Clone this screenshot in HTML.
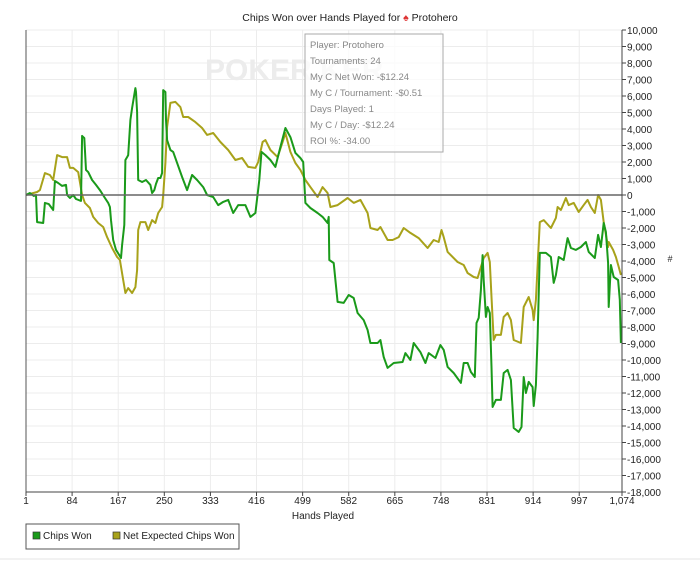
<!DOCTYPE html>
<html><head><meta charset="utf-8"><style>
body{margin:0;background:#fff;font-family:"Liberation Sans",sans-serif;}
svg text{font-family:"Liberation Sans",sans-serif;}
</style></head><body>
<svg id="chart" width="700" height="565" viewBox="0 0 700 565" xmlns="http://www.w3.org/2000/svg">
<rect width="700" height="565" fill="#fff"/>
<text x="350" y="21" font-size="10.5" text-anchor="middle" fill="#222">Chips Won over Hands Played for <tspan fill="#d33">♠</tspan> Protohero</text>
<g id="grid"></g>
<text x="205" y="80" font-size="30" font-weight="bold" fill="#ececec">POKER      KER</text>
<g id="series"></g>
<g id="axes"></g>
<g>
<rect x="305" y="34" width="138" height="118" fill="#fff" fill-opacity="0.75" stroke="#aaa"/>
<g font-size="9.5" fill="#888">
<text x="310" y="48">Player: Protohero</text>
<text x="310" y="64">Tournaments: 24</text>
<text x="310" y="80">My C Net Won: -$12.24</text>
<text x="310" y="96">My C / Tournament: -$0.51</text>
<text x="310" y="112">Days Played: 1</text>
<text x="310" y="128">My C / Day: -$12.24</text>
<text x="310" y="144">ROI %: -34.00</text>
</g></g>
<text x="323" y="519" font-size="10" text-anchor="middle" fill="#222">Hands Played</text>
<text x="670" y="262" font-size="9" text-anchor="middle" fill="#222">#</text>
<g>
<rect x="26" y="524" width="213" height="25" fill="#fff" stroke="#555"/>
<g><rect x="33" y="532" width="7" height="7" fill="#1a9a1a" stroke="#333" stroke-width="0.7"/><text x="43" y="539" font-size="10" fill="#222">Chips Won</text></g>
<g><rect x="113" y="532" width="7" height="7" fill="#a8a21a" stroke="#333" stroke-width="0.7"/><text x="123" y="539" font-size="10" fill="#222">Net Expected Chips Won</text></g>
</g>
<line x1="0" y1="559" x2="700" y2="559" stroke="#e4e4e4"/>
</svg>
<script>
const xTicks=[1,84,167,250,333,416,499,582,665,748,831,914,997,1074];
const yTicks=[10000,9000,8000,7000,6000,5000,4000,3000,2000,1000,0,-1000,-2000,-3000,-4000,-5000,-6000,-7000,-8000,-9000,-10000,-11000,-12000,-13000,-14000,-15000,-16000,-17000,-18000];
const chipsHands=[1,8,15,19,21,32,35,42,50,53,59,66,73,75,80,86,91,100,102,106,109,113,120,127,134,142,149,152,154,158,163,169,172,174,178,180,183,185,189,192,198,199,201,203,210,217,225,228,232,235,239,243,246,248,252,253,255,261,266,282,291,300,309,320,327,338,347,356,365,374,383,396,405,414,421,425,432,441,450,459,468,477,486,495,500,504,513,526,535,544,546,547,555,562,573,582,591,598,609,616,621,634,639,645,652,663,679,684,693,699,711,720,726,738,747,753,760,771,784,789,796,802,809,812,816,820,823,825,829,832,836,839,841,847,856,861,868,874,879,888,893,897,901,906,913,915,919,922,926,937,946,951,955,960,969,976,982,991,1000,1009,1014,1025,1031,1036,1041,1045,1049,1050,1054,1059,1067,1070,1072];
const chipsWon=[0,120,-60,0,-1640,-1700,-480,-550,-910,850,730,550,610,0,-180,0,-240,-360,3580,3450,1520,1390,910,610,300,-120,-480,-730,-1520,-2730,-3330,-3640,-3820,-3030,-1820,2120,2300,2420,4550,5270,6480,6240,5030,910,790,910,610,120,300,670,1030,1030,1330,6360,6240,4550,3330,2730,2610,1090,300,1210,910,480,0,-120,-610,-420,-300,-1090,-610,-610,-1330,-1090,910,2610,2420,2120,1700,2910,4060,3510,2550,2240,2000,-480,-790,-1090,-1330,-1700,-1330,-3940,-4120,-6480,-6540,-6060,-6240,-7150,-7580,-8180,-8970,-8970,-8790,-9820,-10480,-10180,-10120,-9580,-10000,-8970,-9520,-10180,-9580,-9880,-9090,-9390,-10420,-10790,-11390,-10180,-10180,-10730,-11030,-7760,-7450,-5760,-3640,-5150,-7390,-6790,-7150,-10420,-12850,-12420,-12420,-10790,-10600,-11210,-14120,-14360,-14060,-11030,-12000,-11330,-11640,-12790,-11510,-8610,-3510,-3510,-3760,-5330,-4850,-3760,-3940,-2610,-3210,-3330,-3150,-2850,-3450,-3820,-2420,-3150,-1700,-2240,-4120,-6790,-4240,-4970,-5150,-6360,-8970];
const netHands=[1,21,26,35,44,50,57,66,75,80,86,95,102,107,116,122,131,140,147,156,165,170,176,180,185,192,198,201,203,207,216,221,228,234,239,246,248,252,255,261,270,279,284,293,306,318,327,338,351,365,378,390,401,414,419,427,432,441,454,463,468,477,486,495,504,513,526,535,544,549,562,580,591,603,616,621,634,639,652,661,672,681,693,708,724,735,744,749,753,760,778,789,796,807,814,820,825,832,836,839,843,847,856,861,868,874,879,892,897,906,913,915,919,926,933,946,955,958,964,973,978,987,996,1005,1012,1018,1025,1031,1036,1041,1049,1050,1058,1063,1068,1072];
const netExpected=[0,180,300,1330,1210,910,2420,2300,2300,1640,1640,1390,0,-480,-790,-1330,-1700,-1940,-2550,-3210,-3760,-3940,-5150,-5940,-5640,-5940,-5580,-4550,-2120,-1640,-1640,-2120,-1520,-1700,-1090,-730,0,1940,4120,5580,5640,5330,4730,4730,4420,4060,3640,3760,3210,2730,2120,2240,1700,1640,2000,3210,3330,2730,2300,3210,3760,2610,1940,1520,910,480,-120,480,120,-730,-610,-180,-480,-300,-1090,-2000,-2120,-1940,-2730,-2730,-2550,-2000,-2300,-2610,-3210,-2730,-2850,-2120,-2550,-3450,-4060,-4240,-4730,-4970,-5030,-4360,-3820,-3510,-4060,-6180,-8790,-8480,-8480,-7390,-7150,-7580,-8790,-8970,-6790,-6180,-6970,-7580,-6360,-1640,-1520,-2000,-1390,-730,-910,-180,-610,-480,-1030,-610,-300,-730,-1090,0,-300,-1640,-3150,-2850,-3330,-3760,-4360,-4850];

const L=26,R=622,T=30,B=492,NS="http://www.w3.org/2000/svg";
const xs=h=>L+(h-1)/(1074-1)*(R-L);
const ys=v=>B-(v+18000)/28000*(B-T);
function mk(tag,attrs,parent){const e=document.createElementNS(NS,tag);for(const k in attrs)e.setAttribute(k,attrs[k]);parent.appendChild(e);return e;}
const grid=document.getElementById('grid'),axes=document.getElementById('axes'),series=document.getElementById('series');
xTicks.forEach(t=>{
  const g=mk('line',{x1:xs(t),x2:xs(t),y1:T,y2:B,stroke:'#ececec'},grid);
  
  
  const tk=mk('line',{x1:xs(t),x2:xs(t),y1:B,y2:B+4,stroke:'#444'},axes);
  
  
  const lb=mk('text',{x:xs(t),y:B+12,'font-size':10,'text-anchor':'middle',fill:'#222'},axes);
  lb.textContent=t.toLocaleString('en-US');
  
  
});
yTicks.forEach(t=>{
  const g=mk('line',{x1:L,x2:R,y1:ys(t),y2:ys(t),stroke:'#ececec'},grid);
  
  
  const tk=mk('line',{x1:R,x2:R+4,y1:ys(t),y2:ys(t),stroke:'#444'},axes);
  
  
  const lb=mk('text',{x:R+5,y:ys(t)+4,'font-size':10,fill:'#222'},axes);
  lb.textContent=t.toLocaleString('en-US');
  
  
});
const z=mk('line',{x1:L,x2:R,y1:ys(0),y2:ys(0),stroke:'#666','stroke-width':1.5},axes);


const la=mk('line',{x1:L,x2:L,y1:T,y2:B,stroke:'#555'},axes);


const ra=mk('line',{x1:R,x2:R,y1:T,y2:B,stroke:'#444'},axes);


const ba=mk('line',{x1:L,x2:R,y1:B,y2:B,stroke:'#444'},axes);


function line(h,v,color){return h.map((x,i)=>(i?'L':'M')+xs(x).toFixed(1)+','+ys(v[i]).toFixed(1)).join('');}
const p2=mk('path',{d:line(netHands,netExpected),fill:'none',stroke:'#a8a21a','stroke-width':2,'stroke-linejoin':'round'},series);


const p1=mk('path',{d:line(chipsHands,chipsWon),fill:'none',stroke:'#1a9a1a','stroke-width':2,'stroke-linejoin':'round'},series);


</script>
</body></html>
